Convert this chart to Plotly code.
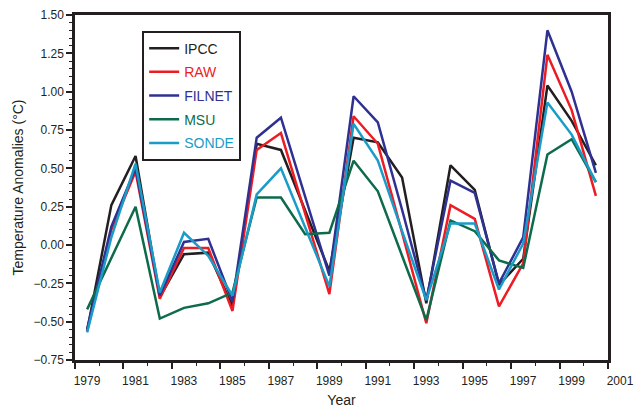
import numpy as np
import plotly.graph_objects as go

years = list(range(1979, 2001))

ipcc = [-0.56, 0.26, 0.58, -0.34, -0.06, -0.05, -0.40, 0.66, 0.62, 0.23, -0.17,
        0.70, 0.67, 0.44, -0.38, 0.52, 0.36, -0.26, -0.09, 1.04, 0.81, 0.52]
raw = [-0.56, 0.10, 0.48, -0.35, -0.02, -0.02, -0.43, 0.62, 0.73, 0.21, -0.32,
       0.84, 0.66, 0.08, -0.51, 0.26, 0.17, -0.40, -0.12, 1.24, 0.88, 0.32]
filnet = [-0.55, 0.12, 0.50, -0.33, 0.02, 0.04, -0.37, 0.70, 0.83, 0.31, -0.20,
          0.97, 0.80, 0.23, -0.36, 0.42, 0.34, -0.25, 0.05, 1.40, 1.00, 0.47]
msu = [-0.42, -0.08, 0.25, -0.48, -0.41, -0.38, -0.31, 0.31, 0.31, 0.07, 0.08,
       0.55, 0.35, -0.07, -0.49, 0.16, 0.09, -0.10, -0.15, 0.59, 0.69, 0.41]
sonde = [-0.57, 0.05, 0.53, -0.31, 0.08, -0.07, -0.33, 0.33, 0.50, 0.11, -0.27,
         0.79, 0.55, 0.09, -0.36, 0.14, 0.14, -0.29, 0.01, 0.93, 0.72, 0.41]

series_names = ["IPCC", "RAW", "FILNET", "MSU", "SONDE"]
series_values = [ipcc, raw, filnet, msu, sonde]
series_colors = ["#231f20", "#ed1c24", "#2e3192", "#0d6b4b", "#1a9cc8"]

x_tick_labels = [str(y) for y in range(1979, 2002, 2)]
# tick marks sit at the boundaries between years; labels belong to the year
x_tick_pos = [int(t) - 0.5 for t in x_tick_labels]

fig = go.Figure()
for i, (nm, vals, col) in enumerate(zip(series_names, series_values, series_colors)):
    fig.add_trace(go.Scatter(
        x=years, y=vals, mode="lines", name=f'<span style="color:{col}">{nm}</span>',
        line=dict(color=col, width=2.5), legendgroup=f"g{i}",
    ))

font_family = "Liberation Sans, Arial, sans-serif"

fig.update_layout(
    width=635, height=408,
    margin=dict(l=75, r=27, t=15, b=48),
    paper_bgcolor="white", plot_bgcolor="white",
    font=dict(family=font_family, size=12, color="#231f20"),
    showlegend=True,
    legend=dict(
        x=0.126, y=0.955, xanchor="left", yanchor="top",
        bgcolor="white", bordercolor="#231f20", borderwidth=2,
        font=dict(size=14, family=font_family),
        traceorder="grouped", tracegroupgap=2.5,
        entrywidth=74, entrywidthmode="pixels",
    ),
    xaxis=dict(
        range=[1978.5, 2000.5],
        tickvals=x_tick_pos, ticktext=x_tick_labels,
        ticks="outside", ticklen=6, tickwidth=1.5, tickcolor="#231f20",
        ticklabelshift=12, ticklabelstandoff=2,
        minor=dict(dtick=1, tick0=1978.5, ticks="outside", ticklen=3,
                   tickwidth=1.2, tickcolor="#231f20"),
        showline=True, linecolor="#231f20", linewidth=2.5, mirror=True,
        showgrid=False, zeroline=False, automargin=False,
        title=dict(text="Year", font=dict(size=14), standoff=13),
        tickfont=dict(size=12),
    ),
    yaxis=dict(
        range=[-0.75, 1.5],
        tick0=-0.75, dtick=0.25, tickformat=".2f",
        ticks="outside", ticklen=6, tickwidth=1.5, tickcolor="#231f20",
        minor=dict(dtick=0.05, tick0=-0.75, ticks="outside", ticklen=3,
                   tickwidth=1.2, tickcolor="#231f20"),
        showline=True, linecolor="#231f20", linewidth=2.5, mirror=True,
        showgrid=False, zeroline=False, automargin=False,
        title=dict(text="Temperature Anomalies (°C)", font=dict(size=14), standoff=7),
        tickfont=dict(size=12),
    ),
)

fig.write_html("out.html", config={"displayModeBar": False},
               post_script="document.body.style.margin='0';document.body.style.padding='0';")
